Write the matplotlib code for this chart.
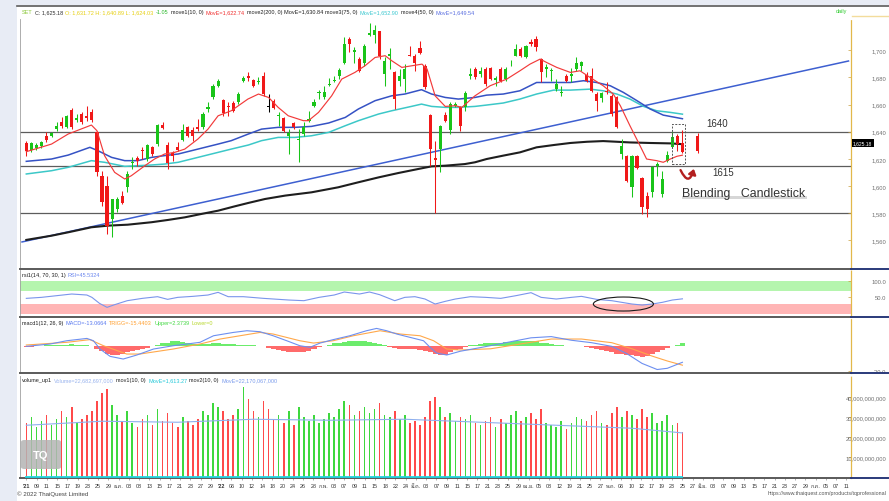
import numpy as np
import matplotlib
matplotlib.use("Agg")
import matplotlib.pyplot as plt
from matplotlib import font_manager
from matplotlib.ft2font import FT2Font
from matplotlib.patches import Rectangle, FancyArrowPatch, Ellipse, FancyBboxPatch
from matplotlib.lines import Line2D
from matplotlib.ticker import FixedLocator, FuncFormatter


def find_family(codepoint):
    # look for an installed font that can draw Thai month names
    paths = [f.fname for f in font_manager.fontManager.ttflist]
    paths += font_manager.findSystemFonts()
    for path in paths:
        try:
            if codepoint in FT2Font(path).get_charmap():
                font_manager.fontManager.addfont(path)
                return font_manager.FontProperties(fname=path).get_name()
        except Exception:
            continue
    return None


families = ['Liberation Sans']
thai = find_family(0x0E01)
if thai:
    families.append(thai)
families.append('DejaVu Sans')
plt.rcParams['font.family'] = families

# ---------------------------------------------------------------
# data (SET index, daily)
# ---------------------------------------------------------------
opens = [
    1631.7, 1626.5, 1627.7, 1629.2, 1636.6, 1636.6, 1641.9, 1646.9, 1643.2, 1655.9,
    1648.6, 1653.0, 1651.7, 1654.2, 1639.5, 1607.6, 1600.3, 1575.8, 1583.1, 1592.5,
    1599.1, 1617.0, 1620.4, 1626.8, 1619.9, 1628.5, 1630.9, 1644.9, 1630.2, 1624.1,
    1629.0, 1634.1, 1643.2, 1641.2, 1643.2, 1643.2, 1656.7, 1665.2, 1673.8, 1663.3,
    1659.1, 1661.1, 1661.5, 1677.5, 1681.2, 1678.0, 1676.7, 1680.7, 1658.9, 1662.8,
    1651.7, 1650.0, 1637.0, 1646.1, 1633.9, 1638.3, 1648.1, 1658.6, 1668.4, 1665.2,
    1674.3, 1677.5, 1680.7, 1690.9, 1708.1, 1698.3, 1693.4, 1690.9, 1711.0, 1711.0,
    1714.2, 1682.4, 1695.9, 1683.6, 1677.5, 1678.7, 1696.3, 1695.9, 1701.7, 1688.5,
    1652.5, 1620.4, 1627.2, 1652.5, 1641.4, 1658.6, 1657.9, 1657.9, 1681.2, 1686.1,
    1682.4, 1686.1, 1686.5, 1677.7, 1686.1, 1678.7, 1690.2, 1695.9, 1700.8, 1694.6,
    1706.1, 1708.1, 1693.4, 1686.1, 1684.3, 1671.3, 1668.4, 1681.2, 1681.2, 1686.1,
    1688.5, 1681.6, 1680.7, 1667.7, 1664.5, 1670.1, 1666.4, 1665.2, 1623.6, 1622.4,
    1599.1, 1622.4, 1605.7, 1592.5, 1595.4, 1615.0, 1594.2, 1618.7, 1628.5, 1636.6,
    1631.72]
highs = [
    1633.4, 1632.6, 1631.7, 1633.4, 1640.0, 1640.0, 1646.9, 1651.0, 1652.2, 1657.1,
    1653.0, 1654.2, 1659.1, 1656.7, 1640.7, 1611.3, 1607.6, 1590.5, 1591.7, 1596.6,
    1611.3, 1621.1, 1622.4, 1628.5, 1630.9, 1629.7, 1645.6, 1646.9, 1632.1, 1626.0,
    1632.1, 1645.6, 1644.4, 1643.2, 1649.3, 1654.2, 1661.5, 1675.0, 1678.7, 1664.0,
    1661.5, 1662.8, 1668.9, 1681.2, 1683.6, 1678.7, 1679.9, 1683.6, 1667.7, 1664.0,
    1654.2, 1650.5, 1641.9, 1646.9, 1641.9, 1646.9, 1655.4, 1664.0, 1670.9, 1673.8,
    1679.2, 1681.2, 1686.5, 1709.3, 1709.3, 1702.0, 1694.6, 1704.4, 1719.9, 1718.4,
    1714.2, 1694.6, 1701.2, 1684.8, 1686.1, 1689.7, 1702.7, 1697.1, 1706.9, 1689.7,
    1653.0, 1633.4, 1644.9, 1654.2, 1661.5, 1661.5, 1659.1, 1670.1, 1686.5, 1687.3,
    1687.3, 1687.3, 1687.3, 1681.2, 1687.3, 1687.3, 1692.9, 1704.4, 1702.0, 1703.7,
    1708.1, 1710.6, 1693.9, 1689.7, 1686.5, 1678.7, 1673.8, 1682.4, 1686.5, 1694.6,
    1692.2, 1683.6, 1686.5, 1668.9, 1669.4, 1676.2, 1667.7, 1666.4, 1634.6, 1622.8,
    1622.8, 1622.8, 1606.4, 1595.4, 1615.0, 1618.0, 1611.3, 1626.0, 1639.5, 1638.3,
    1640.89]
lows = [
    1622.4, 1624.8, 1626.8, 1627.7, 1632.6, 1635.8, 1640.7, 1642.4, 1642.4, 1641.9,
    1646.9, 1645.6, 1648.1, 1646.9, 1607.6, 1585.6, 1564.8, 1562.3, 1580.7, 1586.8,
    1595.4, 1612.6, 1615.0, 1619.9, 1618.7, 1622.4, 1629.7, 1641.9, 1612.6, 1618.7,
    1626.0, 1633.4, 1635.8, 1633.4, 1640.7, 1641.9, 1654.2, 1664.0, 1672.6, 1651.7,
    1651.7, 1654.2, 1660.3, 1676.2, 1677.5, 1672.6, 1675.0, 1666.4, 1654.2, 1656.7,
    1644.4, 1639.5, 1623.6, 1641.9, 1618.0, 1637.0, 1646.9, 1657.9, 1664.0, 1664.0,
    1673.8, 1676.2, 1678.7, 1689.7, 1698.3, 1690.9, 1683.6, 1688.5, 1710.6, 1705.2,
    1693.4, 1673.8, 1686.1, 1656.7, 1673.8, 1668.9, 1695.4, 1684.8, 1697.1, 1671.3,
    1615.0, 1580.0, 1610.1, 1646.9, 1638.3, 1657.9, 1640.7, 1655.4, 1678.7, 1678.7,
    1679.9, 1673.8, 1678.0, 1673.8, 1676.2, 1677.5, 1688.5, 1695.4, 1694.6, 1693.9,
    1702.7, 1699.5, 1676.2, 1679.9, 1677.5, 1670.1, 1666.0, 1676.2, 1676.2, 1684.8,
    1684.8, 1676.2, 1669.4, 1655.4, 1662.0, 1667.7, 1651.7, 1642.4, 1619.9, 1602.8,
    1591.7, 1612.6, 1579.5, 1577.0, 1591.7, 1607.6, 1591.7, 1617.5, 1627.7, 1626.0,
    1624.03]
closes = [
    1626.0, 1631.7, 1630.2, 1632.6, 1633.6, 1639.0, 1644.4, 1644.4, 1651.7, 1643.2,
    1650.0, 1646.9, 1649.8, 1648.6, 1610.1, 1588.0, 1570.9, 1590.5, 1590.5, 1587.6,
    1608.9, 1618.0, 1618.7, 1626.0, 1630.2, 1623.6, 1644.9, 1642.4, 1617.0, 1621.9,
    1626.8, 1641.2, 1637.0, 1636.6, 1641.9, 1653.0, 1657.9, 1673.8, 1677.5, 1653.7,
    1657.9, 1655.4, 1667.7, 1679.2, 1679.2, 1673.8, 1677.5, 1667.7, 1658.4, 1657.1,
    1652.5, 1640.7, 1638.8, 1643.2, 1634.6, 1643.2, 1649.3, 1662.0, 1669.4, 1669.4,
    1675.0, 1678.2, 1685.6, 1704.4, 1704.4, 1700.3, 1684.8, 1703.2, 1712.5, 1714.7,
    1695.9, 1692.2, 1697.1, 1664.0, 1680.7, 1686.1, 1695.9, 1690.9, 1697.8, 1672.6,
    1627.2, 1619.2, 1643.9, 1648.1, 1660.3, 1660.3, 1644.4, 1668.4, 1682.4, 1679.9,
    1684.3, 1675.0, 1678.7, 1679.2, 1677.5, 1686.1, 1690.9, 1700.8, 1695.9, 1703.2,
    1704.4, 1702.0, 1683.6, 1687.3, 1685.6, 1675.0, 1669.4, 1677.5, 1682.4, 1690.9,
    1691.4, 1677.5, 1670.1, 1662.8, 1668.4, 1668.9, 1653.0, 1643.2, 1629.7, 1604.0,
    1622.4, 1613.0, 1584.4, 1583.1, 1614.3, 1616.0, 1605.2, 1622.8, 1635.8, 1630.9,
    1625.18]
doji_days = [48]

# hand-drawn projected candle
proj_day, proj_open, proj_high, proj_low, proj_close = 133, 1636.6, 1639.0, 1624.3, 1625.8

# moving averages (day index, value)
ema10_x = [0, 5, 8.3, 12.9, 14, 15.5, 17.5, 19.5, 20.8, 23.5, 25.4, 27.4, 29.4, 31.4, 34, 36, 38,
           40.6, 43.9, 46, 48, 49.9, 51.9, 54.9, 55.9, 57.9, 60.5, 62.5, 65.1, 67.1, 69.1, 71.1,
           72.4, 74.4, 76.4, 78.4, 79.4, 81, 83, 85, 86.3, 88.9, 91.9, 95.2, 97.8, 99.8, 101.8,
           103.1, 105.1, 107.8, 109.7, 111.7, 114.3, 116.3, 117.7, 119.6, 121.6, 122.9, 124.9,
           126.2, 127.6, 128.9, 130]
ema10_y = [1625.3, 1630.9, 1638.3, 1644.9, 1640.7, 1622.4, 1610.1, 1605.2, 1607.6, 1615.0, 1619.9,
           1623.6, 1624.8, 1627.2, 1634.6, 1641.9, 1651.7, 1655.4, 1664.0, 1667.7, 1665.2, 1657.9,
           1651.7, 1648.1, 1648.1, 1654.2, 1666.4, 1678.7, 1683.6, 1688.5, 1694.6, 1695.9, 1692.2,
           1687.3, 1688.5, 1689.7, 1686.1, 1666.4, 1658.6, 1659.1, 1657.9, 1666.4, 1673.8, 1678.7,
           1684.8, 1689.7, 1693.4, 1690.9, 1687.3, 1683.6, 1684.8, 1679.9, 1673.8, 1667.7, 1659.1,
           1644.4, 1629.7, 1619.9, 1618.7, 1617.5, 1619.9, 1621.9, 1622.74]
ma50_x = [0, 5.0, 8.3, 12.6, 14.2, 16.9, 19.5, 22.1, 24.8, 27.4, 30.1, 32.7, 35.4, 38.0, 40.6, 44.0,
          46.6, 49.9, 53.2, 56.5, 59.9, 63.2, 65.8, 69.1, 72.4, 75.0, 78.3, 80.3, 83.0, 85.6, 88.9,
          91.2, 94.5, 97.8, 101.1, 104.5, 107.8, 110.4, 113.0, 115.7, 118.3, 121.0, 123.6, 126.2, 130]
ma50_y = [1618.2, 1619.9, 1622.8, 1628.5, 1626.0, 1621.1, 1618.7, 1618.7, 1621.1, 1622.4, 1623.6,
          1626.0, 1628.5, 1630.9, 1633.4, 1638.3, 1641.9, 1643.2, 1643.2, 1643.9, 1646.4, 1650.5,
          1656.7, 1662.8, 1666.4, 1667.7, 1670.9, 1667.7, 1665.2, 1664.0, 1665.2, 1666.9, 1667.7,
          1670.1, 1676.2, 1676.2, 1676.2, 1677.5, 1676.2, 1673.8, 1668.9, 1662.8, 1656.7, 1652.2,
          1649.54]
ma75_x = [0, 5.0, 8.3, 12.9, 15.5, 19.5, 22.1, 24.8, 27.4, 30.1, 32.7, 35.4, 38.0, 40.6, 44.0,
          46.6, 49.9, 53.2, 56.5, 59.9, 63.2, 65.8, 69.8, 72.4, 76.3, 78.3, 80.3, 83.0, 85.6, 88.9,
          91.2, 94.5, 97.8, 101.1, 104.5, 107.8, 111.7, 114.3, 117.0, 119.6, 122.3, 124.9, 127.6, 130]
ma75_y = [1608.9, 1611.3, 1613.8, 1618.7, 1617.5, 1614.5, 1615.0, 1615.5, 1616.2, 1617.5, 1619.9,
          1622.4, 1624.8, 1627.2, 1630.2, 1633.4, 1635.8, 1635.8, 1637.0, 1639.5, 1644.4, 1648.1,
          1653.0, 1655.4, 1658.6, 1660.3, 1658.6, 1657.9, 1657.9, 1658.6, 1659.6, 1661.1, 1664.0,
          1667.7, 1670.6, 1670.6, 1671.3, 1670.1, 1667.7, 1664.0, 1658.6, 1655.4, 1654.2, 1652.90]
ma200_x = [0, 5.0, 8.3, 12.9, 16.2, 20.1, 24.8, 28.1, 31.4, 34.7, 38.0, 41.3, 44.0, 47.3, 51.3,
           56.5, 61.8, 65.8, 69.8, 73.7, 77.7, 80.3, 83.0, 86.9, 88.9, 91.2, 94.5, 97.8, 101.1,
           104.5, 107.8, 111.1, 114.3, 117.0, 119.6, 123.6, 127.6, 130]
ma200_y = [1560.4, 1563.5, 1566.0, 1569.7, 1570.9, 1571.6, 1573.4, 1575.1, 1577.0, 1579.5, 1581.9,
           1585.1, 1587.6, 1590.5, 1593.0, 1595.4, 1599.1, 1602.8, 1606.4, 1609.6, 1612.6, 1614.5,
           1615.0, 1616.2, 1617.5, 1619.9, 1622.4, 1624.8, 1628.5, 1630.2, 1631.7, 1632.6, 1633.1,
           1632.6, 1632.1, 1631.7, 1631.4, 1630.84]

trend_x = [-0.85, 162.9]
trend_y = [1558.9, 1692.0]
levels = [1640, 1615, 1580]

# RSI(14)
rsi_x = [0, 3, 6, 9, 12, 13, 14.5, 16, 17.5, 20, 23, 26, 28, 30, 33, 36, 38, 40, 43, 47, 52, 55,
         58, 61, 63, 66, 68, 70, 73, 75, 77, 79, 81, 83, 85, 88, 91, 94, 97, 100, 102, 105, 108,
         110, 113, 116, 118, 120, 122, 124, 126, 128, 130]
rsi_y = [47, 50, 55, 60, 57, 50, 32, 20, 28, 40, 47, 52, 44, 50, 53, 57, 65, 52, 52, 47, 42, 40,
         50, 57, 66, 60, 66, 58, 40, 50, 52, 45, 30, 38, 45, 52, 50, 47, 55, 64, 50, 45, 50, 53,
         44, 40, 35, 30, 27, 30, 35, 42, 45.53]

# MACD(12, 26, 9)
macd_x = [0, 4.7, 8, 12, 13.3, 14.6, 16.6, 19.2, 21.9, 25.2, 29.1, 31.8, 34.4, 37.1, 41, 43.7,
          46.3, 48.9, 51.6, 54.2, 56.2, 58.2, 60.8, 64.1, 67.4, 69.4, 71.4, 73.4, 76, 78.7, 80,
          81.3, 83.3, 86, 90, 95, 100, 104, 108, 112, 116, 119, 122, 125, 127, 130]
macd_y = [0, 1.9, 4.6, 6.5, 4.6, -2.2, -8.2, -10.4, -7.1, -2.2, 0.5, 1.9, 3.3, 8.7, 11.4, 12.8,
          12.0, 8.7, 4.6, 0.5, -0.8, 2.7, 5.5, 8.7, 12.8, 14.7, 12.8, 10.1, 7.4, 4.6, -0.8, -5.5,
          -7.1, -4, -1, 3, 7, 8, 5, 3, 0, -6, -14, -19, -18, -13.07]
trig_x = [0, 8, 12.6, 15.3, 19.9, 22.5, 29.1, 34.4, 38.4, 46.3, 48.9, 54.2, 56.9, 60.8, 64.8,
          70.1, 74.1, 78, 80.7, 83.3, 86, 92, 98, 104, 110, 116, 120, 124, 127, 130]
trig_y = [1.1, 3.3, 5.5, 0.5, -6.3, -6.3, -2.2, 1.9, 6.0, 11.4, 10.1, 4.6, 2.7, 4.6, 8.7, 12.8,
          10.1, 8.7, 4.6, -2.2, -3, -2, 2, 6, 6, 3, -2, -8, -12, -15.44]
macd_hist = [
    -0.5, -0.3, 0.3, 0.5, 0.8, 1.0, 1.2, 1.3, 1.5, 1.6,
    1.5, 1.4, 1.2, 0.5, -2, -4, -6, -7, -7.2, -6.5,
    -5, -4, -3, -2, -1, 0.5, 1.5, 2.5, 3, 4.5,
    4.2, 3.5, 2.8, 2.2, 2.0, 2.0, 2.2, 2.5, 2.5, 2.2,
    2.0, 1.8, 1.5, 1.5, 1.3, 1.0, 0.6, 0.2, -1, -2,
    -3, -4, -4.5, -5, -5, -4.5, -3.5, -2, -0.5, 0.5,
    1.5, 2.5, 3.0, 3.5, 4.0, 4.5, 4.2, 4.0, 3.5, 3.0,
    2.0, 1.0, -0.5, -1.5, -2, -2, -2.2, -2.5, -3, -4,
    -5, -6, -7, -7, -5, -3, -2, -0.5, 1, 1.5,
    2, 2.5, 3, 3, 3, 3.5, 3.5, 4, 4, 4,
    4.5, 4, 3, 2.5, 2, 1.5, 1, 0.5, 0.3, 0.5,
    0.3, -0.5, -1.5, -2.5, -3, -3.5, -4.5, -6, -6.5, -7,
    -7.5, -8, -8.5, -8, -6, -4.5, -3, -1.5, 0.5, 1.5,
    2.37]

# volume, billion baht
volume_bn = [
    27, 30, 25, 28, 31, 26, 29, 33, 30, 35,
    27, 29, 31, 33, 38, 42, 44, 36, 31, 28,
    33, 27, 25, 29, 31, 26, 34, 28, 32, 27,
    25, 30, 28, 26, 29, 33, 31, 37, 35, 33,
    29, 31, 34, 45, 39, 33, 30, 38, 34, 29,
    31, 27, 33, 26, 35, 30, 28, 31, 27, 29,
    32, 30, 34, 38, 36, 31, 33, 35, 32, 34,
    37, 31, 30, 33, 29, 31, 27, 28, 26, 30,
    38, 40, 35, 30, 32, 28, 30, 29, 31, 27,
    26, 28, 30, 25, 29, 27, 31, 33, 28, 30,
    32, 29, 34, 27, 26, 25, 28, 24, 27, 30,
    29, 28, 31, 33, 27, 26, 32, 35, 30, 33,
    31, 29, 34, 30, 32, 27, 28, 31, 26, 27,
    22.68]
vol_ma_x = [0, 15, 30, 45, 60, 75, 90, 105, 120, 130]
vol_ma_y = [26, 28, 27.5, 29, 28.5, 29, 27.5, 26, 24.5, 22.17]

date_labels = ["'21", "09", "11", "15", "17", "19", "23", "25", "29", "ธ.ค.", "03", "08", "13",
               "15", "17", "21", "23", "27", "29", "'22", "06", "10", "12", "14", "18", "20",
               "24", "26", "28", "ก.พ.", "03", "07", "09", "11", "15", "18", "22", "24", "มี.ค.",
               "03", "07", "09", "11", "15", "17", "21", "23", "25", "29", "เม.ย.", "05", "08",
               "12", "19", "21", "25", "27", "พ.ค.", "06", "10", "12", "17", "19", "23", "25",
               "27", "มิ.ย.", "03", "07", "09", "13", "15", "17", "21", "23", "27", "29", "ก.ค.",
               "05", "07", "11"]

# ---------------------------------------------------------------
W, H = 889, 502
X_LO, X_HI = -1.25, 163.4
GREEN, RED = '#19c419', '#f01818'

fig = plt.figure(figsize=(W / 100, H / 100), dpi=100)
fig.patch.set_facecolor('white')


def fx(x):
    return x / W


def fy(y):
    return 1 - y / H


def panel(y0, y1):
    ax = fig.add_axes([fx(20), fy(y1), fx(851) - fx(20), fy(y0) - fy(y1)])
    ax.set_xlim(X_LO, X_HI)
    ax.set_facecolor('none')
    ax.spines['top'].set_visible(False)
    ax.spines['left'].set_color('#a0a0a0')
    ax.spines['left'].set_linewidth(0.6)
    ax.spines['right'].set_color('#e2b84a')
    ax.spines['right'].set_linestyle((0, (1, 1)))
    ax.spines['right'].set_linewidth(0.9)
    ax.spines['bottom'].set_color('#5a5a5a')
    ax.spines['bottom'].set_linewidth(1.4)
    ax.yaxis.tick_right()
    ax.tick_params(axis='y', direction='in', length=2, width=0.5, color='#c8a040',
                   labelsize=4.2, labelcolor='#707070', pad=25.5)
    ax.tick_params(axis='x', bottom=False, labelbottom=False)
    return ax


def right_labels(ax, ticks, fmt):
    ax.yaxis.set_major_locator(FixedLocator(ticks))
    ax.yaxis.set_major_formatter(FuncFormatter(fmt))
    for t in ax.get_yticklabels():
        t.set_horizontalalignment('right')


def header(x_px, y_px, parts, size=4.0):
    r = fig.canvas.get_renderer()
    x = x_px
    for s, colr in parts:
        t = fig.text(fx(x), fy(y_px), s, fontsize=size, color=colr, va='center', ha='left')
        x += t.get_window_extent(renderer=r).width + 2.2


# frame of the window
fig.add_artist(Rectangle((0, 0), fx(17), 1, transform=fig.transFigure, fc='#e8ecf5', ec='none'))
fig.add_artist(Rectangle((0, fy(6)), 1, 6 / H, transform=fig.transFigure, fc='#e8ecf5', ec='none'))
fig.add_artist(Line2D([fx(17), 1], [fy(7), fy(7)], color='#5a5a5a', lw=1.2))
for yb in (270, 318.3, 374.3, 479):
    fig.add_artist(Line2D([fx(851), 1], [fy(yb), fy(yb)], color='#2a3a7a', lw=1.4))
fig.add_artist(Line2D([fx(852), 1], [fy(17), fy(17)], color='#f3dc9c', lw=1.0))

# ---------------- price panel ----------------
ax = panel(20, 270)
ax.set_ylim(1539.0, 1722.9)
right_labels(ax, list(range(1560, 1701, 20)), lambda v, p: f'{v:,.0f}')

idx = np.arange(len(closes))
o, h, l, c = (np.array(a) for a in (opens, highs, lows, closes))
colors = np.where(c >= o, GREEN, RED).astype(object)
for d in doji_days:
    colors[d] = 'black'

for lv in levels:
    ax.axhline(lv, color='#5c5c5c', lw=0.9, zorder=1)

ax.plot(trend_x, trend_y, color='#3d5fd0', lw=1.1, zorder=2)
ax.plot(ma200_x, ma200_y, color='#1e1e1e', lw=1.5, zorder=2)
ax.plot(ma75_x, ma75_y, color='#3cc8c8', lw=1.1, zorder=2)
ax.plot(ma50_x, ma50_y, color='#3552c4', lw=1.1, zorder=2)

ax.vlines(idx, l, h, colors=list(colors), lw=0.75, zorder=3)
ax.bar(idx, np.maximum(np.abs(c - o), 0.35), bottom=np.minimum(o, c), width=0.62,
       color=list(colors), lw=0, zorder=3)
ax.plot(ema10_x, ema10_y, color='#f23a3a', lw=0.85, zorder=4)

# projected candle drawn by the analyst
ax.vlines(proj_day, proj_low, proj_high, colors=RED, lw=0.75, zorder=3)
ax.bar(proj_day, proj_open - proj_close, bottom=proj_close, width=0.75, color=RED, lw=0, zorder=3)

ax.add_patch(Rectangle((128.0, 1616.3), 2.5, 29.4, fill=False, ec='#555555', lw=0.7,
                       ls=(0, (2, 1.5)), zorder=5))
ax.add_patch(FancyArrowPatch((129.4, 1613.6), (132.4, 1614.6), connectionstyle='arc3,rad=1.5',
                             arrowstyle='-|>,head_length=3,head_width=2.2', color='#b32020',
                             lw=1.7, zorder=5))
ax.text(136.9, 1646.4, '1640', fontsize=7, color='#333333', ha='center', va='center')
ax.text(138.0, 1610.1, '1615', fontsize=7, color='#333333', ha='center', va='center')
ax.add_patch(Rectangle((129.9, 1590.5), 24.8, 2.0, fc='#d6d6d6', ec='none', zorder=4))
ax.text(129.9, 1594.6, 'Blending   Candlestick', fontsize=8.9, color='#333333', ha='left',
        va='center', zorder=5)

fig.text(fx(853), fy(144), '1,625.18', fontsize=3.6, color='white', va='center', ha='left',
         bbox=dict(boxstyle='square,pad=0.25', fc='black', ec='none'))
fig.text(fx(836), fy(12), 'daily', fontsize=4.0, color='#33cc33', va='center')

header(22, 12.5, [('SET', '#8cc83c'), ('C: 1,625.18', '#303030'),
                  ('O: 1,631.72 H: 1,640.89 L: 1,624.03', '#e6cf10'), ('-1.05', '#2cb82c'),
                  ('move1(10, 0)', '#202020'), ('MovE=1,622.74', '#f03030'),
                  ('move2(200, 0) MovE=1,630.84', '#202020'), ('move3(75, 0)', '#202020'),
                  ('MovE=1,652.90', '#3cc8d0'), ('move4(50, 0)', '#202020'),
                  ('MovE=1,649.54', '#5a6ee0')])

# ---------------- RSI panel ----------------
ax_rsi = panel(271, 318.3)
ax_rsi.set_ylim(-9.8, 132)
right_labels(ax_rsi, [50, 100], lambda v, p: f'{v:.1f}')
ax_rsi.axhspan(70, 100, color='#b5f5ae', lw=0, zorder=1)
ax_rsi.axhspan(0, 30, color='#ffb5b5', lw=0, zorder=1)
ax_rsi.plot(rsi_x, rsi_y, color='#7a95ec', lw=0.8, zorder=3)
ax_rsi.add_patch(Ellipse((118.3, 30), 11.9, 42, fill=False, ec='#1a1a1a', lw=0.8, zorder=4))
header(22, 276, [('rsi1(14, 70, 30, 1)', '#202020'), ('RSI=45.5324', '#6a86ee')])

# ---------------- MACD panel ----------------
ax_macd = panel(319.3, 374.3)
ax_macd.set_ylim(-22.1, 23)
right_labels(ax_macd, [-20], lambda v, p: f'{v:.1f}')
hist = np.array(macd_hist)
ax_macd.bar(idx, hist, width=1.0, color=np.where(hist >= 0, '#6cec6c', '#ff6b6b'), lw=0, zorder=2)
ax_macd.plot(trig_x, trig_y, color='#ffa84a', lw=0.8, zorder=3)
ax_macd.plot(macd_x, macd_y, color='#6d8ff0', lw=0.8, zorder=3)
header(22, 323.3, [('macd1(12, 26, 9)', '#202020'), ('MACD=-13.0664', '#5a7af0'),
                   ('TRIGG=-15.4403', '#ffa030'), ('Upper=2.3739', '#44d844'),
                   ('Lower=0', '#b8d830')])

# ---------------- volume panel ----------------
ax_vol = panel(377, 479)
ax_vol.set_ylim(-0.35, 50.6)
right_labels(ax_vol, [10, 20, 30, 40], lambda v, p: f'{v * 1e9:,.0f}')
vcol = np.where(c >= o, '#3ed83e', '#ff4a4a')
ax_vol.bar(idx, volume_bn, width=0.32, color=vcol, lw=0, zorder=2)
ax_vol.plot(vol_ma_x, vol_ma_y, color='#8fb0ee', lw=0.8, zorder=3)
ax_vol.plot(ema10_x, np.array(ema10_y) / 1e9, color='#22d4e0', lw=1.3, zorder=3)
fig.add_artist(FancyBboxPatch((fx(21), fy(470)), fx(40), 29 / H, transform=fig.transFigure,
                              boxstyle='round,pad=0,rounding_size=0.004', fc='#b4b4b4',
                              ec='none', alpha=0.85, zorder=1))
fig.text(fx(41), fy(456), 'TQ', fontsize=8, color='white', weight='bold', ha='center',
         va='center')
header(22, 381, [('volume_up1', '#202020'), ('Volume=22,682,697,000', '#9ab4ee'),
                 ('mov1(10, 0)', '#202020'), ('MovE=1,613.27', '#22c8d8'),
                 ('mov2(10, 0)', '#202020'), ('MovE=22,170,067,000', '#7c9cec')])

tick_pos = np.arange(len(date_labels)) * (130 / 64)
ax_vol.set_xticks(tick_pos)
ax_vol.set_xticklabels(date_labels)
ax_vol.tick_params(axis='x', bottom=True, labelbottom=True, length=1.5, width=0.4,
                   color='#707070', labelsize=3.9, labelcolor='#333333', pad=2)
for t in ax_vol.get_xticklabels():
    if t.get_text().startswith("'"):
        t.set_fontweight('bold')

fig.text(fx(17), fy(494), '\u00a9 2022 ThaiQuest Limited', fontsize=4.4, color='#444444',
         va='center')
fig.text(fx(886), fy(494), 'https://www.thaiquest.com/products/tqprofessional', fontsize=3.8,
         color='#555555', va='center', ha='right')

fig.savefig('out.png', dpi=100, facecolor=fig.get_facecolor())
